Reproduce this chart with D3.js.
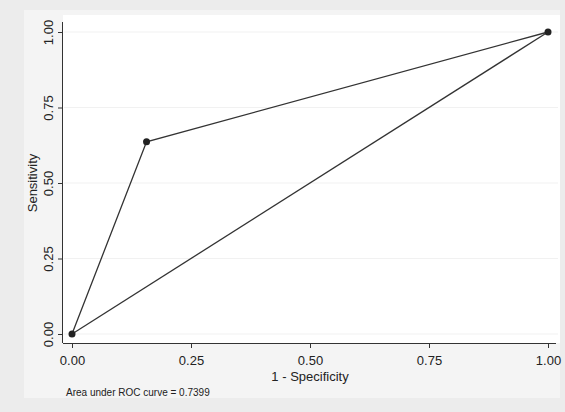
<!DOCTYPE html>
<html><head><meta charset="utf-8">
<script src="https://cdn.jsdelivr.net/npm/d3@7"></script>
<style>body{margin:0;background:#ebebeb}svg{display:block}</style>
</head><body>
<script>
const rocX = [0, 0.1566, 1];
const rocY = [0, 0.6364, 1];
const refX = [0, 1];
const refY = [0, 1];
const tickVals = [0, 0.25, 0.5, 0.75, 1];
const tickLabels = ["0.00", "0.25", "0.50", "0.75", "1.00"];
const xTitle = "1 - Specificity";
const yTitle = "Sensitivity";
const note = "Area under ROC curve = 0.7399";

const W = 565, H = 412;
const svg = d3.select("body").append("svg").attr("width", W).attr("height", H);
svg.append("rect").attr("width", W).attr("height", H).attr("fill", "#ececec");
svg.append("rect").attr("x", 24).attr("y", 10).attr("width", 536).attr("height", 388).attr("fill", "#f4f4f4");
svg.append("rect").attr("x", 63).attr("y", 15).attr("width", 497).attr("height", 328).attr("fill", "#ffffff");

const x = d3.scaleLinear().domain([0, 1]).range([72, 548]);
const y = d3.scaleLinear().domain([0, 1]).range([334, 32]);
const font = "Liberation Sans, Arial, sans-serif";

// faint gridlines
svg.append("g").selectAll("line").data(tickVals).join("line")
  .attr("x1", 64).attr("x2", 558).attr("y1", d => y(d)).attr("y2", d => y(d))
  .attr("stroke", "#f1f1f1").attr("stroke-width", 1);

// x axis
const xa = svg.append("g").attr("transform", "translate(0,343)")
  .call(d3.axisBottom(x).tickValues(tickVals).tickFormat((d, i) => tickLabels[i]).tickSize(5).tickSizeOuter(0));
xa.select(".domain").attr("d", "M63,0.5H556").attr("stroke", "#333");
xa.selectAll(".tick line").attr("stroke", "#333");
xa.selectAll(".tick text").attr("font-family", font).attr("font-size", 13).attr("fill", "#222").attr("dy", "1.05em");

// y axis
const ya = svg.append("g").attr("transform", "translate(63,0)")
  .call(d3.axisLeft(y).tickValues(tickVals).tickFormat((d, i) => tickLabels[i]).tickSize(5).tickSizeOuter(0));
ya.select(".domain").attr("d", "M-0.5,22V343").attr("stroke", "#333");
ya.selectAll(".tick line").attr("stroke", "#333");
ya.selectAll(".tick text").attr("font-family", font).attr("font-size", 13).attr("fill", "#222")
  .attr("x", 0).attr("dy", 0).attr("text-anchor", "middle")
  .attr("transform", "translate(-10,0) rotate(-90)");

// titles
svg.append("text").attr("x", x(0.5)).attr("y", 381).attr("text-anchor", "middle")
  .attr("font-family", font).attr("font-size", 13).attr("fill", "#222").text(xTitle);
svg.append("text").attr("transform", `translate(37,${y(0.5)}) rotate(-90)`).attr("text-anchor", "middle")
  .attr("font-family", font).attr("font-size", 13).attr("fill", "#222").text(yTitle);
svg.append("text").attr("x", 66).attr("y", 396)
  .attr("font-family", font).attr("font-size", 10).attr("fill", "#222").text(note);

const line = d3.line().x(d => x(d[0])).y(d => y(d[1]));
const roc = rocX.map((v, i) => [v, rocY[i]]);
const ref = refX.map((v, i) => [v, refY[i]]);
svg.append("path").attr("d", line(ref)).attr("fill", "none").attr("stroke", "#333").attr("stroke-width", 1.3);
svg.append("path").attr("d", line(roc)).attr("fill", "none").attr("stroke", "#333").attr("stroke-width", 1.3);
svg.append("g").selectAll("circle").data(roc).join("circle")
  .attr("cx", d => x(d[0])).attr("cy", d => y(d[1])).attr("r", 3.5).attr("fill", "#222");
</script>
</body></html>
